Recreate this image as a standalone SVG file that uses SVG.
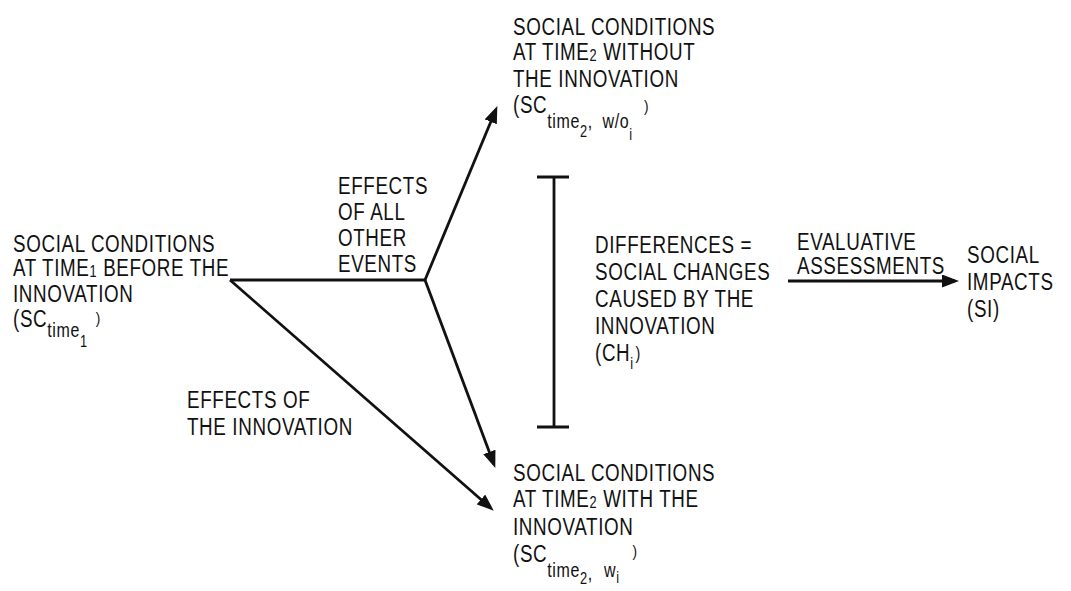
<svg xmlns="http://www.w3.org/2000/svg" width="1071" height="591" viewBox="0 0 1071 591">
<defs>
<style>
text{font-family:"Liberation Sans",Arial,sans-serif;font-size:23.5px;letter-spacing:0.8px;fill:#111}
.ln{stroke:#111;stroke-width:2.8;fill:none}
.ar{marker-end:url(#ah)}
.s{font-size:20px}
.ss{font-size:16px}
</style>
<marker id="ah" markerUnits="userSpaceOnUse" markerWidth="17" markerHeight="13" viewBox="0 0 17 13" refX="13" refY="6.5" orient="auto">
<path d="M0,0 L17,6.5 L0,13 z" fill="#111"/>
</marker>
</defs>
<rect width="1071" height="591" fill="#fff"/>
<g id="connectors">
<path class="ln" d="M230,280 L425,280"/>
<path class="ln ar" d="M425,280 L495.8,109.8"/>
<path class="ln ar" d="M425,280 L493.9,464.2"/>
<path class="ln ar" d="M230,280 L490.7,508"/>
<path class="ln ar" d="M788,281 L955,281"/>
<path class="ln" d="M554,177 L554,427 M537,177 L569,177 M537,427 L569,427"/>
</g>
<g id="sc-time1" transform="translate(13,0) scale(0.8,1)">
<text x="0" y="252">SOCIAL CONDITIONS</text>
<text x="0" y="276">AT TIME<tspan class="ss" dy="1">1</tspan><tspan dy="-1"> BEFORE THE</tspan></text>
<text x="0" y="302">INNOVATION</text>
<text x="0" y="327">(SC<tspan class="s" dy="10">time</tspan><tspan class="ss" dy="10">1</tspan><tspan font-size="17" dx="10" dy="-23">)</tspan></text>
</g>
<g id="sc-time2-without" transform="translate(513,0) scale(0.8,1)">
<text x="0" y="35">SOCIAL CONDITIONS</text>
<text x="0" y="60">AT TIME<tspan class="ss" dy="1">2</tspan><tspan dy="-1"> WITHOUT</tspan></text>
<text x="0" y="87">THE INNOVATION</text>
<text x="0" y="113">(SC<tspan class="s" dy="15">time</tspan><tspan class="ss" dy="9">2</tspan><tspan class="s" dy="-9">,</tspan><tspan class="s" dx="12">w/o</tspan><tspan class="ss" dy="12">i</tspan><tspan font-size="17" dx="14" dy="-28">)</tspan></text>
</g>
<g id="sc-time2-with" transform="translate(513,0) scale(0.8,1)">
<text x="0" y="481">SOCIAL CONDITIONS</text>
<text x="0" y="507">AT TIME<tspan class="ss" dy="1">2</tspan><tspan dy="-1"> WITH THE</tspan></text>
<text x="0" y="535">INNOVATION</text>
<text x="0" y="562">(SC<tspan class="s" dy="15">time</tspan><tspan class="ss" dy="7">2</tspan><tspan class="s" dy="-4">,</tspan><tspan class="s" dx="14" dy="-3">w</tspan><tspan class="ss" dy="6">i</tspan><tspan font-size="17" dx="16" dy="-26">)</tspan></text>
</g>
<g id="effects-other" transform="translate(338,0) scale(0.8,1)">
<text x="0" y="194">EFFECTS</text>
<text x="0" y="220">OF ALL</text>
<text x="0" y="246">OTHER</text>
<text x="0" y="272">EVENTS</text>
</g>
<g id="effects-innovation" transform="translate(187,0) scale(0.8,1)">
<text x="0" y="408">EFFECTS OF</text>
<text x="0" y="435">THE INNOVATION</text>
</g>
<g id="differences" transform="translate(595,0) scale(0.8,1)">
<text x="0" y="253">DIFFERENCES =</text>
<text x="0" y="280">SOCIAL CHANGES</text>
<text x="0" y="307">CAUSED BY THE</text>
<text x="0" y="334">INNOVATION</text>
<text x="0" y="361">(CH<tspan class="ss" dy="8">i</tspan><tspan font-size="18" dx="2" dy="-10">)</tspan></text>
</g>
<g id="evaluative" transform="translate(797,0) scale(0.8,1)">
<text x="0" y="250">EVALUATIVE</text>
<text x="0" y="274">ASSESSMENTS</text>
</g>
<g id="social-impacts" transform="translate(967,0) scale(0.8,1)">
<text x="0" y="263">SOCIAL</text>
<text x="0" y="290">IMPACTS</text>
<text x="0" y="317">(SI)</text>
</g>
</svg>
